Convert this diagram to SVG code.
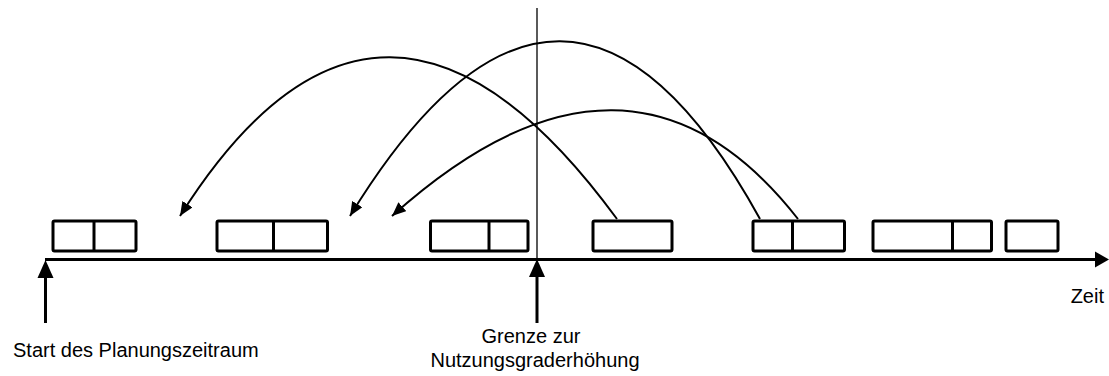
<svg xmlns="http://www.w3.org/2000/svg" width="1109" height="376" viewBox="0 0 1109 376">
<style>
.box{fill:#fff;stroke:#000;stroke-width:3;stroke-linejoin:round}
.div{stroke:#000;stroke-width:3}
.arc{fill:none;stroke:#000;stroke-width:2}
.lbl{font-family:"Liberation Sans",Arial,sans-serif;font-size:20px;fill:#000}
</style>
<defs>
<marker id="ah" markerUnits="userSpaceOnUse" markerWidth="14" markerHeight="12" viewBox="0 0 14 12" refX="14" refY="6" orient="auto">
<path d="M0,0 L14,6 L0,12 z" fill="#000"/>
</marker>
</defs>
<g id="axis">
<line x1="45" y1="259.5" x2="1096" y2="259.5" stroke="#000" stroke-width="3"/>
<path d="M1095,251.5 L1109,259.5 L1095,267.5 z" fill="#000"/>
</g>
<g id="boundary">
<line x1="537" y1="8" x2="537" y2="259" stroke="#000" stroke-width="1.3"/>
</g>
<g id="box1"><rect class="box" x="53" y="221" width="83" height="30" rx="1.5"/><line class="div" x1="94" y1="221" x2="94" y2="251"/></g>
<g id="box2"><rect class="box" x="217" y="221" width="110.5" height="30" rx="1.5"/><line class="div" x1="273.5" y1="221" x2="273.5" y2="251"/></g>
<g id="box3"><rect class="box" x="430.5" y="221" width="97.5" height="30" rx="1.5"/><line class="div" x1="489" y1="221" x2="489" y2="251"/></g>
<g id="box4"><rect class="box" x="593" y="221" width="79" height="30" rx="1.5"/></g>
<g id="box5"><rect class="box" x="753" y="221" width="91.5" height="30" rx="1.5"/><line class="div" x1="792.5" y1="221" x2="792.5" y2="251"/></g>
<g id="box6"><rect class="box" x="873" y="221" width="118.5" height="30" rx="1.5"/><line class="div" x1="952.5" y1="221" x2="952.5" y2="251"/></g>
<g id="box7"><rect class="box" x="1006" y="221" width="52" height="30" rx="1.5"/></g>
<g id="connectors">
<path class="arc" d="M617,219 Q381.5,-103 180,216" marker-end="url(#ah)"/>
<path class="arc" d="M760,219 Q565,-135 350,216" marker-end="url(#ah)"/>
<path class="arc" d="M798,219 Q629,3 392,216" marker-end="url(#ah)"/>
</g>
<g id="start">
<line x1="45.5" y1="276" x2="45.5" y2="323" stroke="#000" stroke-width="3"/>
<path d="M37.5,278 L45.5,260 L53.5,278 z" fill="#000"/>
<text class="lbl" x="13" y="357">Start des Planungszeitraum</text>
</g>
<g id="grenze">
<line x1="537" y1="276" x2="537" y2="323" stroke="#000" stroke-width="3"/>
<path d="M529,277 L537,259 L545,277 z" fill="#000"/>
<text class="lbl" x="531" y="343" text-anchor="middle">Grenze zur</text>
<text class="lbl" x="535" y="367" text-anchor="middle">Nutzungsgraderhöhung</text>
</g>
<g id="zeit">
<text class="lbl" x="1104" y="303" text-anchor="end">Zeit</text>
</g>
</svg>
